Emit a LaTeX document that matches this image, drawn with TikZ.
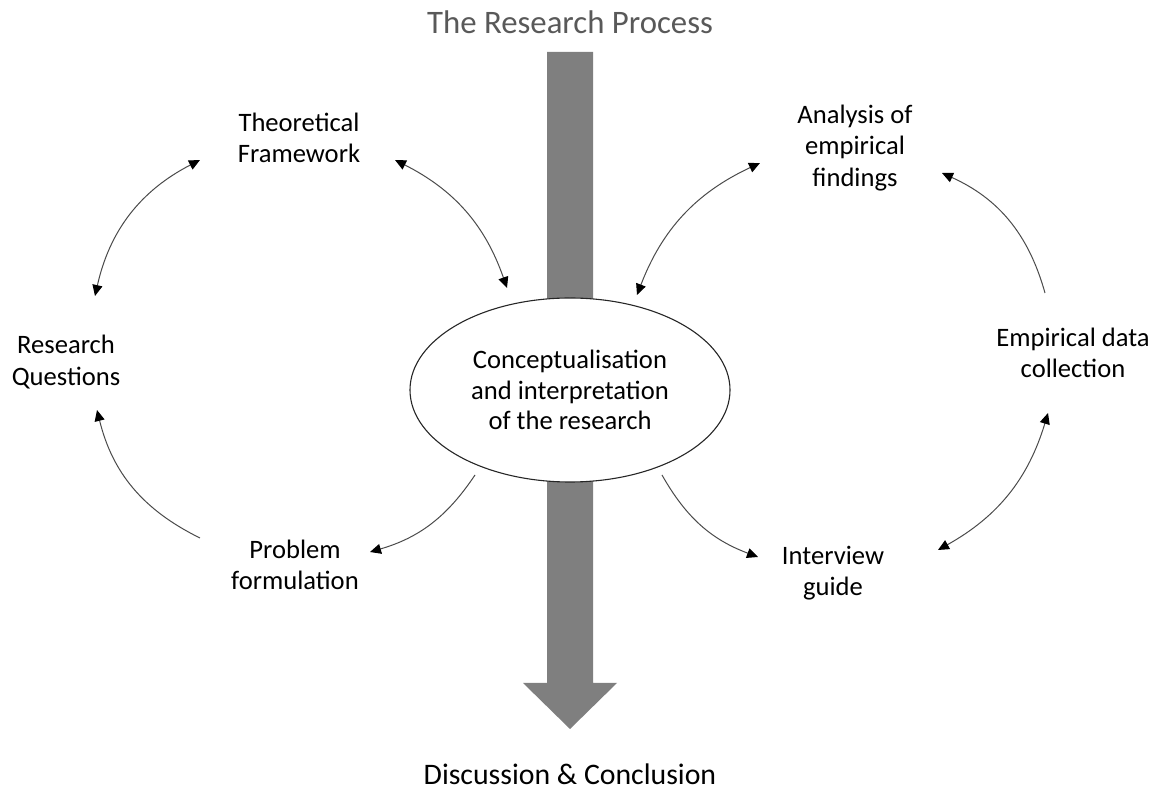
\documentclass[tikz,border=0pt]{standalone}
\usepackage{fontspec}
\setmainfont{Carlito}
\usetikzlibrary{arrows.meta,shapes.geometric}
\definecolor{bargray}{HTML}{7F7F7F}
\definecolor{titlegray}{HTML}{595959}
\definecolor{linegray}{HTML}{4A4A4A}
\tikzset{
  lbl/.style={align=center, font=\fontsize{13.3}{15.6}\selectfont, inner sep=0pt},
  conn/.style={draw=linegray, line width=0.5pt,
    arrows={-}, >={Triangle[length=5.5pt,width=5pt,color=black]}},
  bigell/.style={draw=black!85, line width=0.55pt, ellipse, fill=white,
    minimum width=160pt, minimum height=92pt, inner sep=0pt, align=center,
    font=\fontsize{13.3}{15.4}\selectfont}
}
\begin{document}
\begin{tikzpicture}[x=0.5pt,y=-0.5pt]
\path[use as bounding box] (0,0) rectangle (1158,790);
% central arrow
\fill[bargray] (547,52) -- (593,52) -- (593,683) -- (617,683) -- (570,729)
  -- (523,683) -- (547,683) -- cycle;
% titles
\node[inner sep=0pt, text=titlegray, font=\fontsize{16.4}{19}\selectfont] (title) at (570,22) {The Research Process};
\node[inner sep=0pt, font=\fontsize{14.9}{17}\selectfont] (disc) at (570,774) {Discussion \& Conclusion};
% center ellipse
\node[bigell] (ell) at (570,390) {Conceptualisation\\and interpretation\\of the research};
% labels
\node[lbl] (tf) at (299,138) {Theoretical\\Framework};
\node[lbl] (rq) at (66,362) {Research\\Questions};
\node[lbl] (pf) at (295,565) {Problem\\formulation};
\node[lbl] (an) at (855,148) {Analysis of\\empirical\\findings};
\node[lbl] (ed) at (1073,353) {Empirical data\\collection};
\node[lbl] (ig) at (833,573) {Interview\\guide};
% connector end points
\coordinate (tfL) at (200,160);
\coordinate (rqT) at (95,296);
\coordinate (tfR) at (395,160);
\coordinate (ellTL) at (507,288);
\coordinate (anL) at (760,163);
\coordinate (ellTR) at (637,295);
\coordinate (edT) at (1045,293);
\coordinate (anR) at (942,173);
\coordinate (edB) at (1048,413);
\coordinate (igR) at (938,550);
\coordinate (ellBR) at (662,475);
\coordinate (igL) at (758,557);
\coordinate (ellBL) at (475,475);
\coordinate (pfR) at (370,552);
\coordinate (pfL) at (200,538);
\coordinate (rqB) at (97,410);
% connectors
\draw[conn,<->] (tfL) to[bend right=25] (rqT);
\draw[conn,<->] (tfR) to[bend left=22] (ellTL);
\draw[conn,<->] (anL) to[bend right=22] (ellTR);
\draw[conn,->] (edT) to[bend right=25] (anR);
\draw[conn,<->] (edB) to[bend left=22] (igR);
\draw[conn,->] (ellBR) to[bend right=20] (igL);
\draw[conn,->] (ellBL) to[bend left=20] (pfR);
\draw[conn,->] (pfL) to[bend left=25] (rqB);
\end{tikzpicture}
\end{document}
